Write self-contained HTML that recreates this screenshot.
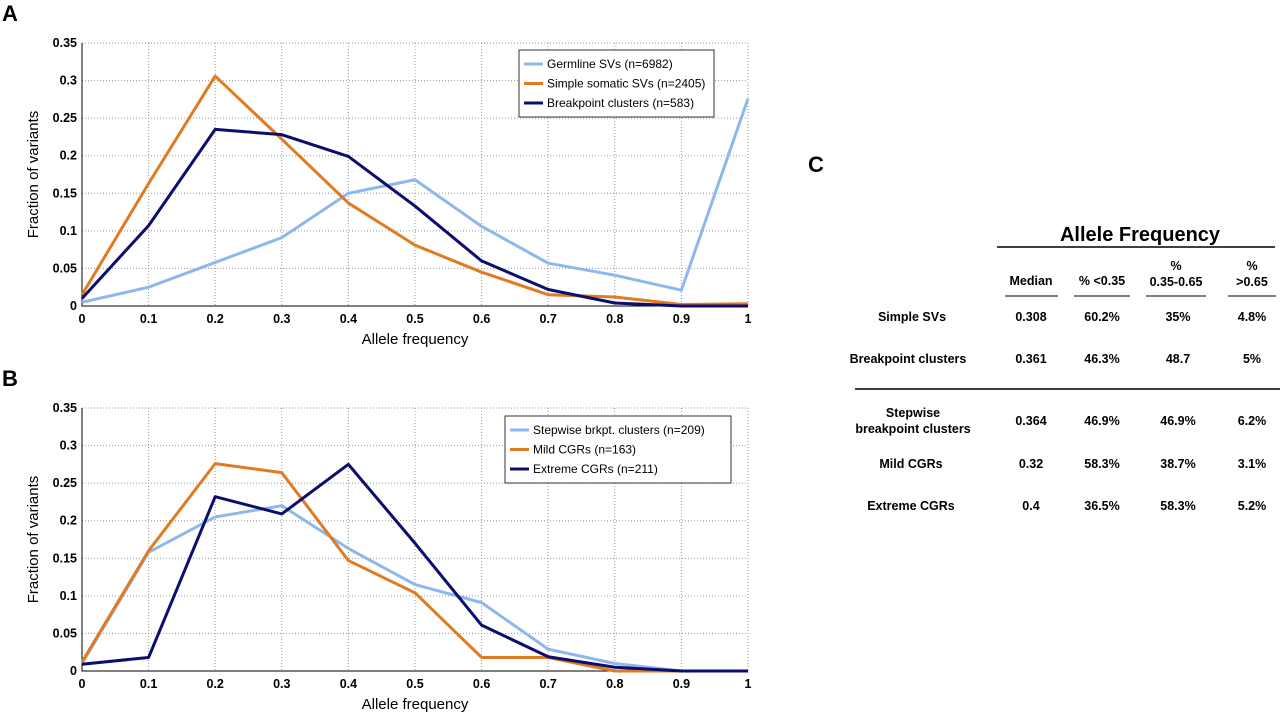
<!DOCTYPE html>
<html><head><meta charset="utf-8"><style>
body{margin:0;background:#fff;font-family:"Liberation Sans",Arial,sans-serif;}
svg text{font-family:"Liberation Sans",Arial,sans-serif;}
</style></head><body>
<svg id="fig" width="1280" height="714" viewBox="0 0 1280 714" xmlns="http://www.w3.org/2000/svg">
<g id="pA"></g>
<g id="pB"></g>
<g id="tbl" font-weight="bold" fill="#000">
<text x="808" y="172" font-size="22">C</text>
<text x="1140" y="241" font-size="20" text-anchor="middle">Allele Frequency</text>
<line x1="997" y1="247" x2="1275" y2="247" stroke="#000" stroke-width="1.5"/>
<g font-size="12.5" text-anchor="middle">
<text x="1031" y="285">Median</text>
<text x="1102" y="285">% &lt;0.35</text>
<text x="1176" y="270">%</text>
<text x="1176" y="286">0.35-0.65</text>
<text x="1252" y="270">%</text>
<text x="1252" y="286">&gt;0.65</text>
<line x1="1005" y1="296" x2="1058" y2="296" stroke="#000"/>
<line x1="1074" y1="296" x2="1130" y2="296" stroke="#000"/>
<line x1="1146" y1="296" x2="1206" y2="296" stroke="#000"/>
<line x1="1228" y1="296" x2="1276" y2="296" stroke="#000"/>
<text x="912" y="321">Simple SVs</text>
<text x="1031" y="321">0.308</text><text x="1102" y="321">60.2%</text><text x="1178" y="321">35%</text><text x="1252" y="321">4.8%</text>
<text x="908" y="363">Breakpoint clusters</text>
<text x="1031" y="363">0.361</text><text x="1102" y="363">46.3%</text><text x="1178" y="363">48.7</text><text x="1252" y="363">5%</text>
<line x1="855" y1="389" x2="1280" y2="389" stroke="#000" stroke-width="1.5"/>
<text x="913" y="417">Stepwise</text>
<text x="913" y="433">breakpoint clusters</text>
<text x="1031" y="425">0.364</text><text x="1102" y="425">46.9%</text><text x="1178" y="425">46.9%</text><text x="1252" y="425">6.2%</text>
<text x="911" y="468">Mild CGRs</text>
<text x="1031" y="468">0.32</text><text x="1102" y="468">58.3%</text><text x="1178" y="468">38.7%</text><text x="1252" y="468">3.1%</text>
<text x="911" y="510">Extreme CGRs</text>
<text x="1031" y="510">0.4</text><text x="1102" y="510">36.5%</text><text x="1178" y="510">58.3%</text><text x="1252" y="510">5.2%</text>
</g></g>
</svg>
<script>
const xVals=[0,0.1,0.2,0.3,0.4,0.5,0.6,0.7,0.8,0.9,1];
const xTicks=["0","0.1","0.2","0.3","0.4","0.5","0.6","0.7","0.8","0.9","1"];
const yTicks=[0,0.05,0.1,0.15,0.2,0.25,0.3,0.35];
const yTickLabels=["0","0.05","0.1","0.15","0.2","0.25","0.3","0.35"];
const germline=[0.005,0.025,0.058,0.091,0.15,0.168,0.106,0.057,0.041,0.021,0.276];
const simpleSomatic=[0.015,0.163,0.306,0.222,0.137,0.081,0.045,0.015,0.012,0.002,0.003];
const brkptClusters=[0.01,0.107,0.235,0.228,0.199,0.133,0.06,0.022,0.004,0.0,0.0];
const stepwise=[0.01,0.158,0.205,0.22,0.163,0.115,0.091,0.029,0.01,0,0];
const mildCGR=[0.012,0.16,0.276,0.264,0.147,0.104,0.018,0.018,0,0,0];
const extremeCGR=[0.009,0.018,0.232,0.209,0.275,0.17,0.061,0.019,0.005,0,0];
const namesA=["Germline SVs (n=6982)","Simple somatic SVs (n=2405)","Breakpoint clusters (n=583)"];
const namesB=["Stepwise brkpt. clusters (n=209)","Mild CGRs (n=163)","Extreme CGRs (n=211)"];
const colors=["#8db8ee","#e07b22","#0c0e6e"];
const NS="http://www.w3.org/2000/svg";
function mk(p,tag,a,txt){const e=document.createElementNS(NS,tag);for(const k in a)e.setAttribute(k,a[k]);if(txt!=null)e.textContent=txt;p.appendChild(e);return e;}
function chart(g,top,bottom,series,names,letter,leg){
 const L=82,R=748;
 const xs=v=>L+v*(R-L), ys=v=>bottom-v/0.35*(bottom-top);
 const t=mk(g,'text',{x:2,y:top-22,'font-size':22,'font-weight':'bold'},letter);
 
 
 xVals.forEach((v,i)=>{
  const gl=mk(g,'line',{x1:xs(v),x2:xs(v),y1:top,y2:bottom,stroke:'#999','stroke-dasharray':'1,2','stroke-width':1});
  
  
  const tl=mk(g,'text',{x:xs(v),y:bottom+17,'font-size':12.5,'text-anchor':'middle','font-weight':'bold'},xTicks[i]);
  
  
 });
 yTicks.forEach((v,i)=>{
  const gl=mk(g,'line',{x1:L,x2:R,y1:ys(v),y2:ys(v),stroke:'#999','stroke-dasharray':'1,2','stroke-width':1});
  
  
  const tl=mk(g,'text',{x:L-5,y:ys(v)+4,'font-size':12.5,'text-anchor':'end','font-weight':'bold'},yTickLabels[i]);
  
  
 });
 const ax=mk(g,'path',{d:`M${L},${top}V${bottom}H${R}`,fill:'none',stroke:'#000','stroke-width':1});
 
 
 series.forEach((s,k)=>{
  const pl=mk(g,'polyline',{points:s.map((v,i)=>xs(xVals[i])+','+ys(v)).join(' '),fill:'none',stroke:colors[k],'stroke-width':3,'stroke-linejoin':'round'});
  
  
 });
 const xt=mk(g,'text',{x:(L+R)/2,y:bottom+38,'font-size':15,'text-anchor':'middle'},'Allele frequency');
 
 
 const yt=mk(g,'text',{x:0,y:0,'font-size':15,'text-anchor':'middle',transform:`translate(38,${(top+bottom)/2}) rotate(-90)`},'Fraction of variants');
 
 
 const lg=mk(g,'g',{});
 
 
 mk(lg,'rect',{x:leg[0],y:leg[1],width:leg[2],height:67,fill:'#fff',stroke:'#333','stroke-width':1});
 names.forEach((n,k)=>{
  const yy=leg[1]+14+k*19.5;
  const ent=mk(lg,'g',{});
  
  
  mk(ent,'line',{x1:leg[0]+5,x2:leg[0]+24,y1:yy,y2:yy,stroke:colors[k],'stroke-width':3});
  mk(ent,'text',{x:leg[0]+28,y:yy+4,'font-size':12},n);
 });
}
chart(document.getElementById('pA'),43,306,[germline,simpleSomatic,brkptClusters],namesA,'A',[519,50,195]);
chart(document.getElementById('pB'),408,671,[stepwise,mildCGR,extremeCGR],namesB,'B',[505,416,226]);
</script>
</body></html>
